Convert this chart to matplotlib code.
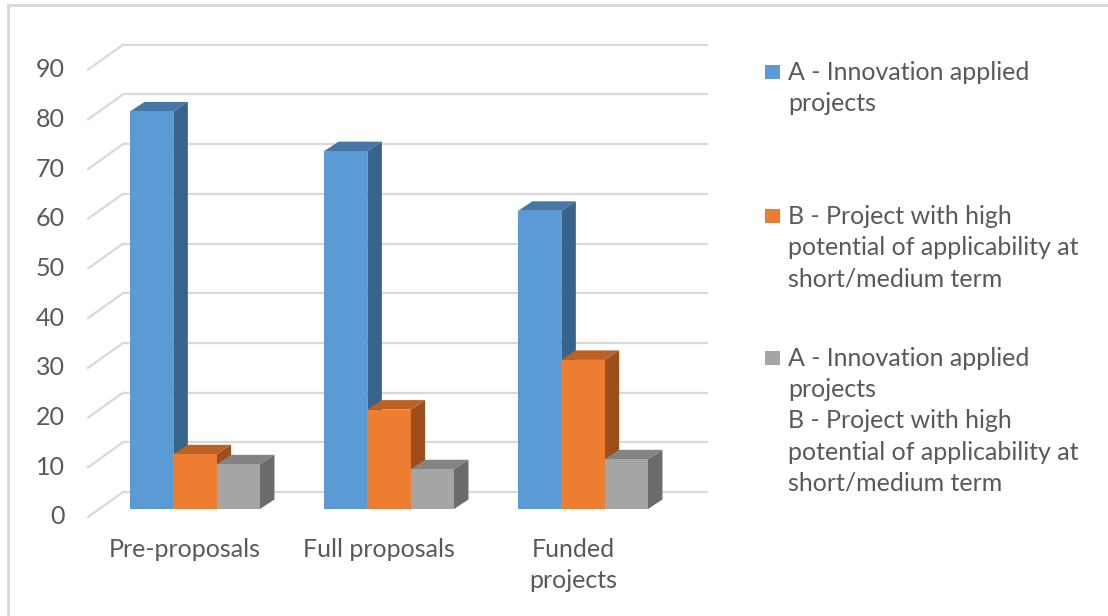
import numpy as np
import matplotlib.pyplot as plt
from matplotlib.patches import Polygon, Rectangle
from matplotlib.lines import Line2D

# Chart data
categories = ['Pre-proposals', 'Full proposals', 'Funded\nprojects']
series_names = ['A - Innovation applied\nprojects',
                'B - Project with high\npotential of applicability at\nshort/medium term',
                'A - Innovation applied\nprojects\nB - Project with high\npotential of applicability at\nshort/medium term']
series_a = [80, 72, 60]
series_b = [11, 20, 30]
series_ab = [9, 8, 10]
y_ticks = [0, 10, 20, 30, 40, 50, 60, 70, 80, 90]

# front / top / side shades for each series
front_colors = ['#5B9BD5', '#ED7D31', '#A5A5A5']
top_colors = ['#4677A6', '#BC6023', '#838383']
side_colors = ['#38638A', '#9C4F1C', '#6B6B6B']
grid_color = '#D9D9D9'
text_color = '#595959'
fs = 18

plt.rcParams['font.family'] = ['Lato', 'DejaVu Sans']

W, H = 1108, 616
fig = plt.figure(figsize=(W / 100, H / 100), dpi=100)

# axes in pixel box (60..720, 30..530); 1 group = 194 px, 1 unit = 4.97 px
px_x0, px_x1, px_y0, px_y1 = 60, 720, 30, 530
ax = fig.add_axes([px_x0 / W, 1 - px_y1 / H, (px_x1 - px_x0) / W, (px_y1 - px_y0) / H])
sx, sy = 194.0, 4.97
ax.set_xlim((px_x0 - 195) / sx, (px_x1 - 195) / sx)
ax.set_ylim((509 - px_y1) / sy, (509 - px_y0) / sy)
ax.axis('off')

# depth offsets (data units)
wall_front = (-107 / sx, -8 / sy)    # left front edge relative to bar plane
wall_back = (-72 / sx, 17 / sy)
wall_right = 513 / sx
bar_dx, bar_dy = 14.5 / sx, 9.5 / sy

# back wall gridlines with the diagonal side-wall lines
for t in y_ticks:
    yb = t + wall_back[1]
    yf = t + wall_front[1]
    ax.plot([wall_back[0], wall_right], [yb, yb], color=grid_color, lw=1.6,
            solid_capstyle='butt', zorder=1)
    ax.plot([wall_front[0], wall_back[0]], [yf, yb], color=grid_color, lw=1.6,
            zorder=1)
    ax.text(wall_front[0] - 23 / sx, yf, str(t), ha='right', va='center',
            fontsize=fs, color=text_color)

# 3D-look columns
width = 43.3 / sx
x = np.arange(len(categories))
series = [series_a, series_b, series_ab]
for k, vals in enumerate(series):
    xs = x - 1.5 * width + k * width
    for xl, v in zip(xs, vals):
        xr = xl + width
        side = Polygon([(xr, 0), (xr + bar_dx, bar_dy), (xr + bar_dx, v + bar_dy), (xr, v)],
                       closed=True, facecolor=side_colors[k], edgecolor='none', zorder=3 + k)
        top = Polygon([(xl, v), (xr, v), (xr + bar_dx, v + bar_dy), (xl + bar_dx, v + bar_dy)],
                      closed=True, facecolor=top_colors[k], edgecolor='none', zorder=3 + k)
        ax.add_patch(side)
        ax.add_patch(top)
    ax.bar(xs, vals, width=width, align='edge', color=front_colors[k],
           edgecolor='none', zorder=3 + k)

# category labels
for xi, name in zip(x, categories):
    ax.text(xi - 10 / sx, -29 / sy, name, ha='center', va='top', fontsize=fs,
            color=text_color, linespacing=1.42)

# legend
leg_rows = [72, 216, 358]
for name, color, yc in zip(series_names, front_colors, leg_rows):
    fig.patches.append(Rectangle((765 / W, 1 - (yc + 7) / H), 15 / W, 14 / H,
                                 transform=fig.transFigure, facecolor=color,
                                 edgecolor='none'))
    fig.text(788 / W, 1 - (yc - 11) / H, name, ha='left', va='top', fontsize=fs,
             color=text_color, linespacing=1.43)

# chart area border (left and top edges)
fig.add_artist(Line2D([8 / W, 8 / W], [0, 1 - 5 / H], color='#D9D9D9', lw=2))
fig.add_artist(Line2D([8 / W, 1], [1 - 5 / H, 1 - 5 / H], color='#D9D9D9', lw=2))

fig.savefig('out.png', dpi=100, facecolor='white')
